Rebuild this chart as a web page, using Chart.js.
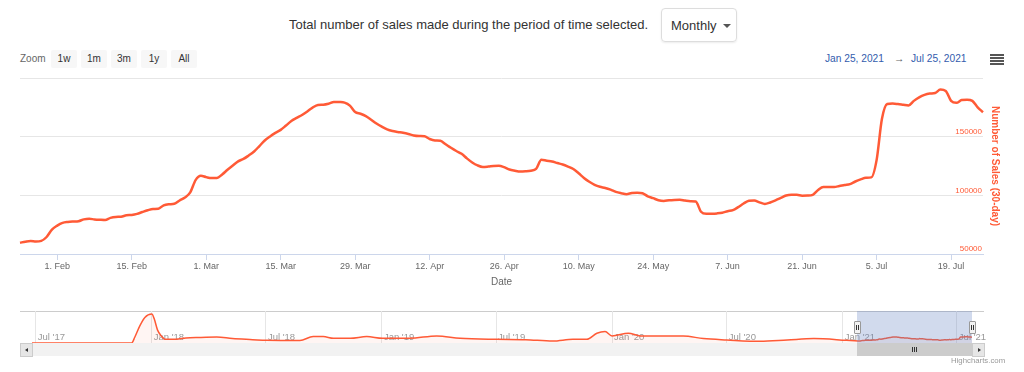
<!DOCTYPE html>
<html>
<head>
<meta charset="utf-8">
<script src="https://cdn.jsdelivr.net/npm/chart.js@4.4.1/dist/chart.umd.min.js"></script>
<style>
  html, body { margin: 0; padding: 0; background: #fff; }
  body { width: 1024px; height: 372px; position: relative; overflow: hidden; font-family: "Liberation Sans", Arial, sans-serif; }
  .abs { position: absolute; white-space: nowrap; }
  #title { left: 289px; top: 17px; font-size: 13px; color: #333; }
  #select { left: 661px; top: 8px; width: 74px; height: 32px; border: 1px solid #ddd; border-radius: 4px; box-shadow: 0 1px 2px rgba(0,0,0,.08); }
  #select span { position: absolute; left: 9px; top: 9px; font-size: 13px; color: #333; }
  #select i { position: absolute; left: 61px; top: 15px; border-left: 4px solid transparent; border-right: 4px solid transparent; border-top: 4px solid #555; }
  #zoomlbl { left: 20px; top: 53px; font-size: 10px; color: #666; }
  .btn { top: 50px; width: 26px; height: 18px; background: #f7f7f7; border-radius: 2px; font-size: 10px; color: #333; text-align: center; line-height: 18px; }
  .range { top: 53px; font-size: 10.2px; color: #335cad; }
  #menu { left: 990px; top: 54px; width: 14px; }
  #menu b { display: block; height: 2px; background: #555; margin-bottom: 1px; }
  #mainBox { left: 0; top: 70px; }
  #navBox { left: 0; top: 306px; }
  #outline { left: 20px; top: 311px; width: 964px; height: 1px; background: #ccc; }
  #mask { left: 857px; top: 311px; width: 115px; height: 32px; background: rgba(102,133,194,0.3); }
  .handle { top: 321px; width: 5px; height: 11px; background: #f2f2f2; border: 1px solid #999; border-radius: 1px; }
  .handle::before, .handle::after { content: ""; position: absolute; top: 3px; width: 1px; height: 5px; background: #333; }
  .handle::before { left: 1px; } .handle::after { left: 3px; }
  #track { left: 20px; top: 343px; width: 964px; height: 13px; background: #f2f2f2; }
  .sbtn { top: 343px; width: 11px; height: 12px; background: #e6e6e6; border: 1px solid #ccc; }
  .sbtn i { position: absolute; top: 4px; border-top: 2px solid transparent; border-bottom: 2px solid transparent; }
  #thumb { left: 857px; top: 343px; width: 115px; height: 13px; background: #ccc; }
  #thumb i { position: absolute; top: 4px; width: 1px; height: 5px; background: #333; }
  #credits { left: 951px; top: 356px; font-size: 7.8px; color: #999; }
</style>
</head>
<body>
<div class="abs" id="title">Total number of sales made during the period of time selected.</div>
<div class="abs" id="select"><span>Monthly</span><i></i></div>

<div class="abs" id="zoomlbl">Zoom</div>
<div class="abs btn" style="left:51px">1w</div>
<div class="abs btn" style="left:81px">1m</div>
<div class="abs btn" style="left:111px">3m</div>
<div class="abs btn" style="left:141px">1y</div>
<div class="abs btn" style="left:171px">All</div>

<div class="abs range" style="left:825px">Jan 25, 2021</div>
<div class="abs range" style="left:894px;color:#666">&rarr;</div>
<div class="abs range" style="left:911px">Jul 25, 2021</div>
<div class="abs" id="menu"><b></b><b></b><b></b><b></b></div>

<div class="abs" id="mainBox"><canvas id="mainChart" width="1024" height="225"></canvas></div>

<div class="abs" id="outline"></div>
<div class="abs" id="track"></div>
<div class="abs sbtn" style="left:20px"><i style="left:4px;border-right:3px solid #333"></i></div>
<div class="abs sbtn" style="left:972px"><i style="left:5px;border-left:3px solid #333"></i></div>
<div class="abs" id="thumb"><i style="left:55px"></i><i style="left:57px"></i><i style="left:59px"></i></div>
<div class="abs" id="navBox"><canvas id="navChart" width="1024" height="40"></canvas></div>
<div class="abs" id="mask"></div>
<div class="abs handle" style="left:854px"></div>
<div class="abs handle" style="left:969px"></div>
<div class="abs" id="credits">Highcharts.com</div>

<script>
// 30-day sales, one value per day from 25 Jan 2021 to 25 Jul 2021
const startDate = '2021-01-25'
const sales = [
    59600, 60500, 61100, 60700, 61200, 64500, 70800, 74200, 76500, 77300,
    77700, 78000, 79500, 80000, 79500, 79200, 79000, 80800, 81600, 81800,
    83000, 83300, 84200, 85800, 87300, 88400, 88600, 91500, 92400, 92800,
    95600, 98200, 102500, 113000, 116700, 115500, 114700, 114800, 117800, 121800,
    125500, 129000, 131000, 134000, 137400, 142000, 146700, 150200, 153200, 155800,
    159500, 163300, 166000, 168500, 171500, 174800, 177000, 177200, 178000, 179600,
    179500, 179000, 176500, 171000, 169500, 167500, 164500, 161200, 158500, 156200,
    154800, 154000, 153300, 152300, 151000, 150500, 150300, 148000, 146800, 146500,
    143500, 140500, 137800, 135400, 131500, 128000, 125500, 124200, 124500, 125000,
    125200, 124000, 122000, 121000, 120300, 120500, 121000, 122500, 130300, 129500,
    128900, 127500, 126300, 124500, 122400, 118800, 114800, 111600, 109000, 107300,
    106300, 104800, 102900, 101800, 101000, 102000, 102300, 101800, 99200, 97600,
    95800, 95200, 95800, 96100, 96200, 95500, 95000, 94700, 86000, 84200,
    84300, 84600, 85200, 86500, 87400, 90000, 93000, 95400, 95600, 94000,
    92700, 93900, 95700, 97800, 99800, 100400, 100400, 99700, 99800, 100400,
    104500, 107000, 107000, 107100, 107900, 108800, 109600, 111800, 113600, 115000,
    115300, 130000, 165000, 177800, 178200, 177800, 177200, 176600, 180500, 183500,
    185600, 186700, 187200, 190200, 189000, 180500, 178800, 181200, 181500, 180500,
    175000, 170800
]
const xTickLabels = ['1. Feb', '15. Feb', '1. Mar', '15. Mar', '29. Mar', '12. Apr', '26. Apr',
    '10. May', '24. May', '7. Jun', '21. Jun', '5. Jul', '19. Jul']
const yTicks = [50000, 100000, 150000]

// navigator: earlier history (sampled), then the daily series above
const historyDates = ['2017-06-25', '2017-11-30', '2017-12-05', '2017-12-13', '2017-12-21', '2018-01-01',
    '2018-01-05', '2018-01-10', '2018-01-16', '2018-01-23', '2018-02-08', '2018-02-24', '2018-03-20',
    '2018-04-14', '2018-05-09', '2018-06-10', '2018-07-02', '2018-08-24', '2018-09-14', '2018-09-30',
    '2018-10-16', '2018-11-12', '2018-12-08', '2019-01-02', '2019-02-14', '2019-03-29', '2019-05-05',
    '2019-07-02', '2019-08-17', '2019-09-29', '2019-10-31', '2019-11-22', '2019-12-08', '2019-12-21',
    '2020-01-01', '2020-01-27', '2020-02-15', '2020-04-02', '2020-04-23', '2020-05-25', '2020-07-01',
    '2020-08-23', '2020-10-05', '2020-11-16', '2021-01-07']
const historyValues = [0, 0, 170000, 510000, 760000, 860000,
    710000, 390000, 210000, 110000, 110000, 150000, 165000,
    180000, 130000, 100000, 80000, 75000, 190000, 190000,
    140000, 140000, 190000, 140000, 140000, 210000, 140000,
    110000, 100000, 60000, 110000, 110000, 290000, 340000,
    210000, 290000, 210000, 210000, 210000, 130000, 90000,
    50000, 90000, 130000, 80000]
const navTickDates = ['2017-07-01', '2018-01-01', '2018-07-01', '2019-01-01', '2019-07-01',
    '2020-01-01', '2020-07-01', '2021-01-01', '2021-07-01']
const navTickLabels = ["Jul '17", "Jan '18", "Jul '18", "Jan '19", "Jul '19", "Jan '20", "Jul '20", "Jan '21", "Jul '21"]

const orange = '#ff5a36'
const months = ['Jan', 'Feb', 'Mar', 'Apr', 'May', 'Jun', 'Jul', 'Aug', 'Sep', 'Oct', 'Nov', 'Dec']
const dayNum = s => (Date.parse(s) - Date.parse('2017-07-01')) / 86400000
const firstDay = dayNum(startDate)

Chart.defaults.font.family = '"Liberation Sans", Arial, sans-serif'

const dayLabels = sales.map((v, i) => {
    const d = new Date(Date.parse(startDate) + i * 86400000)
    return d.getUTCDate() + '. ' + months[d.getUTCMonth()]
})
const shown = i => xTickLabels.includes(dayLabels[i])

function mainChart(){
    new Chart(document.getElementById('mainChart'), {
        type: 'line',
        data: {
            labels: dayLabels,
            datasets: [{
                data: sales,
                borderColor: orange,
                borderWidth: 2.5,
                pointRadius: 0,
                cubicInterpolationMode: 'monotone'
            }]
        },
        options: {
            responsive: false,
            animation: false,
            devicePixelRatio: 1,
            layout: {padding: {left: 20, right: 18, top: 8, bottom: 0}},
            plugins: {legend: {display: false}, tooltip: {enabled: false}},
            scales: {
                x: {
                    ticks: {
                        autoSkip: false, maxRotation: 0, color: '#666', font: {size: 9}, padding: 1,
                        callback: (v, i) => shown(i) ? dayLabels[i] : ''
                    },
                    grid: {
                        drawOnChartArea: false, tickLength: 6,
                        color: c => shown(c.index) ? '#ccd6eb' : 'rgba(0,0,0,0)'
                    },
                    border: {color: '#ccd6eb'},
                    title: {display: true, text: 'Date', color: '#666', font: {size: 10}, padding: {top: 0, bottom: 7}},
                    afterFit: s => { s.height = 41 }
                },
                y: {
                    position: 'right',
                    min: 50000,
                    max: 200000,
                    afterBuildTicks: s => { s.ticks = yTicks.concat([200000]).map(v => ({value: v})) },
                    ticks: {
                        mirror: true, crossAlign: 'near', padding: -1, labelOffset: -5,
                        color: orange, font: {size: 8},
                        callback: v => yTicks.includes(v) ? String(v) : ''
                    },
                    grid: {color: '#e6e6e6', drawTicks: false},
                    border: {display: false},
                    title: {
                        display: true, text: 'Number of Sales (30-day)', color: orange,
                        font: {size: 10, weight: 'bold'}, padding: {top: 5, bottom: 0}
                    },
                    afterFit: s => { s.width = 23 }
                }
            }
        }
    })
}

function navChart(){
    const points = historyDates.map((d, i) => ({x: dayNum(d), y: historyValues[i]}))
        .concat(sales.map((v, i) => ({x: firstDay + i, y: v})))
    new Chart(document.getElementById('navChart'), {
        type: 'line',
        data: {
            datasets: [{
                data: points,
                borderColor: orange,
                borderWidth: 1.5,
                pointRadius: 0,
                fill: 'origin',
                backgroundColor: 'rgba(255,90,54,0.06)',
                cubicInterpolationMode: 'monotone'
            }]
        },
        options: {
            responsive: false,
            animation: false,
            devicePixelRatio: 1,
            layout: {padding: {left: 32, right: 52, top: 5, bottom: 0}},
            plugins: {legend: {display: false}, tooltip: {enabled: false}},
            scales: {
                x: {
                    type: 'linear',
                    min: dayNum(historyDates[0]),
                    max: firstDay + sales.length - 1,
                    afterBuildTicks: s => { s.ticks = navTickDates.map(d => ({value: dayNum(d)})) },
                    ticks: {
                        // mirror puts the labels inside the plot, above the axis
                        mirror: true, autoSkip: false, maxRotation: 0, align: 'start', labelOffset: 2, padding: 0,
                        color: '#999', font: {size: 9.5},
                        callback: (v, i) => navTickLabels[i]
                    },
                    grid: {color: '#e6e6e6', drawTicks: false},
                    border: {display: false},
                    afterFit: s => { s.height = 3 }
                },
                y: {display: false, min: 0, max: 950000}
            }
        }
    })
}

mainChart()
navChart()
</script>
</body>
</html>
